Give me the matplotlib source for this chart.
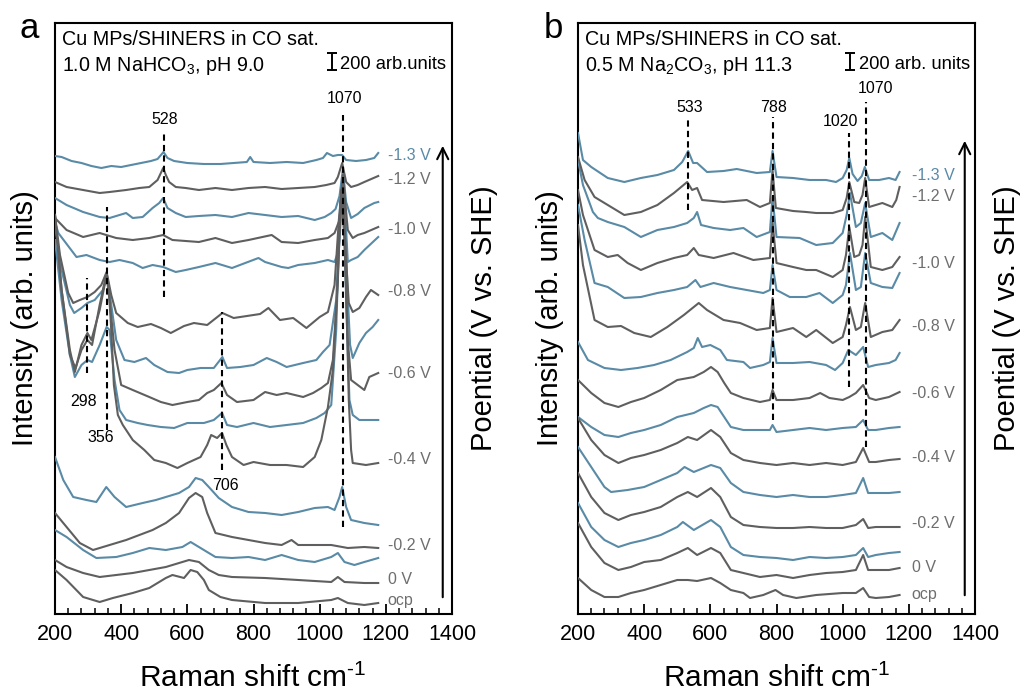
import numpy as np
import matplotlib
matplotlib.use('Agg')
import matplotlib.pyplot as plt
from matplotlib.ticker import MultipleLocator

plt.rcParams['font.family'] = ['Liberation Sans', 'DejaVu Sans']
plt.rcParams['mathtext.fontset'] = 'custom'
plt.rcParams['mathtext.rm'] = 'Liberation Sans'
plt.rcParams['mathtext.it'] = 'Liberation Sans:italic'
plt.rcParams['mathtext.bf'] = 'Liberation Sans:bold'

ARB = 12  # arb. units per stored intensity step (stacked intensities incl. offset)

# ---------------- Panel a: 1.0 M NaHCO3 ----------------
a13_x = [200,220,250,280,310,340,370,400,430,460,490,510,528,540,560,600,650,700,740,780,790,800,850,900,950,990,1010,1022,1040,1055,1068,1080,1110,1140,1165,1177]
a13_h = [458,457,453,451,448,446,448,447,449,451,453,455,462,456,453,451,450,450,451,452,457,452,451,452,451,454,456,461,458,459,459,454,453,454,456,461]

a12_x = [200,235,285,335,365,415,455,485,510,527,535,545,565,595,635,685,735,785,835,885,935,985,1020,1045,1055,1068,1080,1095,1115,1135,1177]
a12_h = [432,427,424,421,422,424,426,427,434,446,439,432,427,426,424,426,424,426,427,425,426,427,429,431,437,451,432,427,429,432,438]

a11_x = [200,235,285,335,365,395,415,435,465,495,515,527,540,565,595,635,685,735,785,835,885,935,985,1015,1035,1048,1060,1070,1080,1095,1115,1135,1165,1177]
a11_h = [416,409,402,397,396,399,401,396,397,406,411,416,406,401,397,398,399,397,401,399,397,398,394,397,401,405,418,444,412,396,400,406,411,412]

a10_x = [200,235,285,335,385,435,485,527,555,635,685,735,785,855,885,935,985,1025,1045,1060,1070,1085,1100,1115,1135,1177]
a10_h = [396,384,377,381,376,374,376,379,374,372,376,371,374,379,372,371,374,376,381,394,439,384,376,379,381,387]

a09_x = [200,210,265,295,335,365,395,435,465,495,527,565,595,635,685,735,775,815,835,885,905,935,985,1025,1045,1058,1072,1085,1095,1115,1135,1177]
a09_h = [392,381,357,359,354,352,354,351,346,349,347,342,344,347,351,346,351,356,352,347,346,349,351,354,352,364,436,352,354,357,364,377]

a08_x = [200,215,240,255,275,298,320,340,356,370,385,420,450,490,520,550,590,620,660,706,740,780,820,845,880,920,960,1000,1025,1045,1058,1070,1080,1088,1100,1120,1140,1155,1177]
a08_h = [399,359,321,311,314,317,322,329,342,319,301,291,287,290,286,281,288,291,289,301,296,298,300,306,294,296,286,297,302,329,394,434,354,311,302,306,317,324,319]

a07_x = [200,220,245,258,280,298,320,345,356,368,385,410,440,475,500,540,575,600,640,680,706,720,760,800,840,870,900,950,990,1010,1030,1050,1062,1074,1084,1092,1100,1120,1140,1160,1177]
a07_h = [389,344,309,301,306,311,314,324,337,314,274,254,252,256,249,242,241,244,246,246,257,246,247,249,256,252,247,251,254,262,269,314,404,429,324,269,256,271,281,287,294]

a06_x = [200,220,245,260,280,298,310,335,356,368,380,400,435,485,520,555,600,635,660,680,703,720,750,800,835,870,900,950,980,1005,1025,1040,1055,1065,1075,1085,1095,1115,1135,1150,1177]
a06_h = [399,324,264,242,269,281,274,304,339,304,264,229,224,217,212,209,212,214,221,224,231,219,212,214,222,219,221,217,221,226,231,254,334,424,374,274,234,229,224,237,241]

a05_x = [200,220,245,260,280,298,312,335,356,365,380,395,415,450,480,520,560,600,650,680,705,720,750,800,850,900,950,990,1015,1035,1050,1062,1072,1080,1090,1100,1120,1150,1177]
a05_h = [374,314,259,237,249,254,252,269,287,284,234,204,194,191,189,187,186,191,191,194,201,189,187,191,187,189,191,196,201,209,284,414,419,314,214,199,194,194,194]

a04_x = [200,220,245,262,280,298,312,335,356,362,370,378,390,405,435,470,500,535,570,600,640,660,672,690,705,718,735,770,800,850,900,950,985,1005,1025,1040,1052,1062,1072,1080,1088,1095,1100,1140,1177]
a04_h = [399,324,259,246,264,274,269,309,341,329,284,229,199,189,174,164,154,151,146,151,157,169,179,176,181,169,157,149,152,149,149,147,157,174,207,244,314,404,414,324,214,164,151,149,151]

a03_x = [200,225,255,295,325,355,380,415,465,505,535,575,605,625,645,665,695,735,785,835,885,935,985,1025,1045,1060,1068,1080,1095,1135,1177]
a03_h = [157,134,117,114,112,127,117,107,111,114,117,121,127,136,134,127,116,107,102,101,99,102,106,107,104,117,127,107,94,91,89]

a02_x = [200,235,275,315,365,415,455,495,535,575,605,625,645,660,685,735,785,835,885,915,935,985,1035,1085,1135,1177]
a02_h = [101,87,71,64,69,74,79,84,91,101,116,121,117,101,81,77,74,71,69,74,69,69,69,66,67,66]

a01_x = [200,235,285,325,385,435,485,535,585,610,635,685,735,785,835,885,935,985,1035,1055,1075,1105,1135,1177]
a01_h = [84,77,64,56,57,61,66,64,67,72,67,57,56,57,54,59,54,52,57,61,52,49,52,56]

a00_x = [200,235,285,335,385,435,485,535,575,605,635,665,695,735,835,935,1035,1055,1075,1135,1177]
a00_h = [54,47,41,37,39,41,44,47,51,54,52,44,39,37,36,34,32,37,32,31,31]

aocp_x = [200,235,285,335,375,435,485,535,555,590,610,630,650,665,700,735,835,935,1035,1055,1085,1135,1177]
aocp_h = [44,34,17,12,16,21,26,36,39,36,44,42,34,24,17,14,11,11,14,16,11,9,11]

# ---------------- Panel b: 0.5 M Na2CO3 ----------------
b13_x = [200,215,240,290,340,390,440,490,515,533,548,560,590,640,680,740,780,788,800,850,900,950,980,1000,1012,1020,1030,1045,1058,1067,1080,1110,1140,1160,1172]
b13_h = [481,454,447,436,432,436,439,444,452,463,451,451,442,443,445,441,442,463,437,436,434,434,432,436,444,456,440,433,438,447,434,434,436,434,442]

b12_x = [200,220,250,290,340,390,440,490,530,545,560,575,640,710,750,780,788,798,850,890,920,970,1000,1012,1020,1035,1050,1060,1068,1080,1120,1150,1162,1172]
b12_h = [457,434,417,409,399,402,409,421,432,424,426,414,412,414,407,411,444,406,403,402,401,401,404,416,432,412,411,419,436,407,411,407,414,427]

b11_x = [200,215,245,260,290,340,390,440,490,530,550,560,572,610,660,700,740,780,788,800,870,920,970,1000,1012,1022,1040,1055,1068,1085,1120,1150,1172]
b11_h = [454,429,402,396,392,387,377,384,387,391,396,402,389,386,384,386,377,382,417,377,376,369,371,381,399,421,387,391,411,377,381,374,391]

b10_x = [200,215,250,290,320,350,390,440,490,530,550,565,610,670,730,780,788,800,850,890,920,970,1000,1010,1020,1035,1050,1060,1068,1085,1120,1150,1172]
b10_h = [424,399,364,357,359,351,344,351,356,359,366,359,356,361,354,356,392,351,347,344,344,337,344,359,387,357,359,369,397,347,344,347,357]

b09_x = [200,220,250,290,340,390,440,490,530,555,570,610,660,710,760,780,788,800,840,890,930,970,1000,1010,1022,1040,1055,1068,1085,1120,1150,1172]
b09_h = [409,374,331,327,316,317,321,324,327,334,327,331,327,324,321,324,349,324,317,317,321,311,319,329,361,324,327,361,331,327,326,341]

b08_x = [200,215,250,290,330,370,420,470,520,565,590,640,690,740,780,788,800,850,890,920,970,1000,1010,1022,1040,1055,1068,1085,1120,1150,1172]
b08_h = [389,349,294,287,288,281,277,287,299,311,304,294,291,284,286,316,282,286,277,284,271,277,289,307,284,287,311,277,282,284,294]

b07_x = [200,230,280,330,380,430,480,530,550,562,575,600,630,650,700,720,760,780,788,800,850,900,950,977,1000,1017,1040,1062,1077,1100,1140,1160,1172]
b07_h = [272,254,246,244,246,249,254,262,266,276,267,269,264,254,252,246,249,252,276,251,251,252,249,244,251,264,259,267,247,249,251,254,261]

b06_x = [200,240,280,322,360,400,450,500,550,580,602,622,642,662,700,750,780,788,800,850,900,932,960,1000,1020,1040,1062,1080,1100,1140,1172]
b06_h = [234,221,211,207,212,216,224,234,237,242,247,242,231,221,216,212,214,224,214,214,216,221,216,214,217,221,229,216,214,217,222]

b05_x = [200,240,280,322,360,400,450,500,550,580,602,622,642,662,700,750,780,788,800,850,900,950,1000,1040,1062,1077,1100,1140,1172]
b05_h = [197,187,179,177,181,184,189,197,201,206,209,207,197,187,184,184,184,189,182,184,186,184,186,187,194,184,184,186,187]

b04_x = [200,240,280,322,360,400,450,500,532,560,602,630,662,700,750,800,850,900,950,1000,1040,1062,1080,1100,1140,1172]
b04_h = [196,174,159,151,156,159,164,171,177,174,184,177,161,154,151,149,151,149,151,149,152,166,152,152,154,155]

b03_x = [200,240,280,300,350,400,450,500,522,550,602,630,662,700,750,800,850,900,950,1000,1040,1062,1077,1100,1140,1172]
b03_h = [167,147,127,122,124,127,134,141,147,142,149,146,131,122,119,117,119,117,117,119,121,136,121,121,121,122]

b02_x = [200,240,280,322,360,400,450,500,532,560,602,630,662,700,750,800,850,900,950,1000,1040,1062,1077,1100,1140,1172]
b02_h = [141,117,101,94,99,102,107,117,122,117,126,117,97,89,87,86,86,87,86,86,89,95,86,87,87,87]

b01_x = [200,240,280,322,360,400,450,500,517,550,602,630,662,700,750,800,850,900,950,1000,1040,1062,1077,1100,1140,1172]
b01_h = [111,87,74,67,71,74,79,87,92,84,94,87,67,59,57,56,54,57,56,57,59,66,57,59,61,62]

b00_x = [200,240,280,322,360,400,450,500,532,560,602,630,662,700,750,800,850,900,950,1000,1040,1062,1077,1100,1140,1172]
b00_h = [91,67,51,44,47,52,54,61,66,59,66,61,44,41,37,39,36,39,41,42,44,59,44,44,44,46]

bocp_x = [200,240,280,322,360,400,450,500,532,560,602,630,662,700,720,760,797,820,860,920,1000,1040,1062,1080,1100,1140,1172]
bocp_h = [36,24,17,17,21,24,29,34,34,33,36,31,24,21,16,19,24,19,16,19,21,21,26,17,16,17,19]

potentials = ['-1.3 V', '-1.2 V', '-1.1 V', '-1.0 V', '-0.9 V', '-0.8 V', '-0.7 V',
              '-0.6 V', '-0.5 V', '-0.4 V', '-0.3 V', '-0.2 V', '-0.1 V', '0 V', 'ocp']
labelled = ['-1.3 V', '-1.2 V', '-1.0 V', '-0.8 V', '-0.6 V', '-0.4 V', '-0.2 V', '0 V', 'ocp']

traces_a = [(a13_x, a13_h), (a12_x, a12_h), (a11_x, a11_h), (a10_x, a10_h), (a09_x, a09_h),
            (a08_x, a08_h), (a07_x, a07_h), (a06_x, a06_h), (a05_x, a05_h), (a04_x, a04_h),
            (a03_x, a03_h), (a02_x, a02_h), (a01_x, a01_h), (a00_x, a00_h), (aocp_x, aocp_h)]
traces_b = [(b13_x, b13_h), (b12_x, b12_h), (b11_x, b11_h), (b10_x, b10_h), (b09_x, b09_h),
            (b08_x, b08_h), (b07_x, b07_h), (b06_x, b06_h), (b05_x, b05_h), (b04_x, b04_h),
            (b03_x, b03_h), (b02_x, b02_h), (b01_x, b01_h), (b00_x, b00_h), (bocp_x, bocp_h)]

# peak markers: (position cm-1, top, bottom, label, label x, label y)  in stored units
peaks_a = [(528, 482, 317, '528', 532, 495),
           (1070, 499, 87, '1070', 1076, 515),
           (356, 407, 184, '356', 337, 177),
           (298, 336, 241, '298', 285, 213),
           (706, 302, 144, '706', 715, 128)]
peaks_b = [(533, 497, 404, '533', 539, 507),
           (788, 497, 194, '788', 792, 507),
           (1020, 481, 227, '1020', 992, 492),
           (1070, 512, 167, '1070', 1099, 525)]

BLUE = '#598aa6'
GRAY = '#5f5f5f'
LGRAY = '#6e6e6e'

fig = plt.figure(figsize=(10.24, 6.93), dpi=100)
axA = fig.add_axes([55/1024, 79/693, 397/1024, 591/693])
axB = fig.add_axes([578/1024, 79/693, 397/1024, 591/693])


def setup(ax):
    ax.set_xlim(200, 1400)
    ax.set_ylim(0, 591 * ARB)
    ax.set_yticks([])
    ax.xaxis.set_major_locator(MultipleLocator(200))
    ax.xaxis.set_minor_locator(MultipleLocator(40))
    ax.tick_params(axis='x', which='major', direction='in', length=7, width=1.3,
                   labelsize=15.5, pad=7, top=False)
    ax.tick_params(axis='x', which='minor', direction='in', length=4, width=1.1, top=False)
    for s in ax.spines.values():
        s.set_linewidth(1.5)


def draw(ax, traces, label_x, peaks):
    for i, (x, h) in enumerate(traces):
        c = BLUE if (i % 2 == 0 and i <= 12) else GRAY
        ax.plot(x, np.array(h) * ARB, color=c, lw=1.5, zorder=3 + (i % 2))
        name = potentials[i]
        if name in labelled:
            yl = (np.median(h[-3:]) + 3) * ARB
            ax.text(label_x, yl, name, color=BLUE if i == 0 else LGRAY,
                    fontsize=11.5, va='center', ha='left')
    for pos, top, bot, txt, lx, ly in peaks:
        ax.plot([pos, pos], [bot * ARB, top * ARB], color='k', lw=1.5,
                linestyle=(0, (3, 2)), zorder=5)
        ax.text(lx, ly * ARB, txt, fontsize=11.5, ha='center', va='center', zorder=6)


setup(axA)
setup(axB)
draw(axA, traces_a, 1206, peaks_a)
draw(axB, traces_b, 1209, peaks_b)

# arrows (potential direction)
for ax, xa, y0, y1 in [(axA, 1372, 14, 471), (axB, 1369, 16, 476)]:
    ax.annotate('', xy=(xa, y1 * ARB), xytext=(xa, y0 * ARB),
                arrowprops=dict(arrowstyle='->', lw=1.5, color='k', mutation_scale=20))

# condition text
axA.text(0.0176, 0.963, 'Cu MPs/SHINERS in CO sat.', transform=axA.transAxes,
         fontsize=14.2, va='baseline', ha='left')
axA.text(0.0176, 0.919, r'1.0 M NaHCO$\mathregular{_3}$, pH 9.0', transform=axA.transAxes,
         fontsize=14.2, va='baseline', ha='left')
axB.text(0.0176, 0.963, 'Cu MPs/SHINERS in CO sat.', transform=axB.transAxes,
         fontsize=14.2, va='baseline', ha='left')
axB.text(0.0176, 0.919, r'0.5 M Na$\mathregular{_2}$CO$\mathregular{_3}$, pH 11.3', transform=axB.transAxes,
         fontsize=14.2, va='baseline', ha='left')

# scale bars (200 arb. units)
for ax, xb, xt, yb, txt in [(axA, 1036, 1060, 544, '200 arb.units'),
                            (axB, 1022, 1050, 544, '200 arb. units')]:
    y0 = yb * ARB
    ax.errorbar([xb], [y0 + 100], yerr=100, color='k', capsize=3.5, lw=1.4, capthick=1.4)
    ax.text(xt, y0 + 60, txt, fontsize=13.2, va='center', ha='left')

# axis labels
for xc in (253, 777):
    fig.text(xc / 1024, 1 - 687 / 693, r'Raman shift cm$^{\text{-1}}$', fontsize=21.5,
             ha='center', va='baseline')
for xc in (25, 550):
    fig.text(xc / 1024, 1 - 318 / 693, 'Intensity (arb. units)', fontsize=21,
             rotation=90, ha='center', va='center')
for xc in (484, 1007):
    fig.text(xc / 1024, 1 - 318 / 693, 'Poential (V vs. SHE)', fontsize=21,
             rotation=90, ha='center', va='center')

fig.text(29 / 1024, 1 - 38 / 693, 'a', fontsize=25, ha='center', va='baseline')
fig.text(553 / 1024, 1 - 38 / 693, 'b', fontsize=25, ha='center', va='baseline')

fig.savefig('out.png', dpi=100)
